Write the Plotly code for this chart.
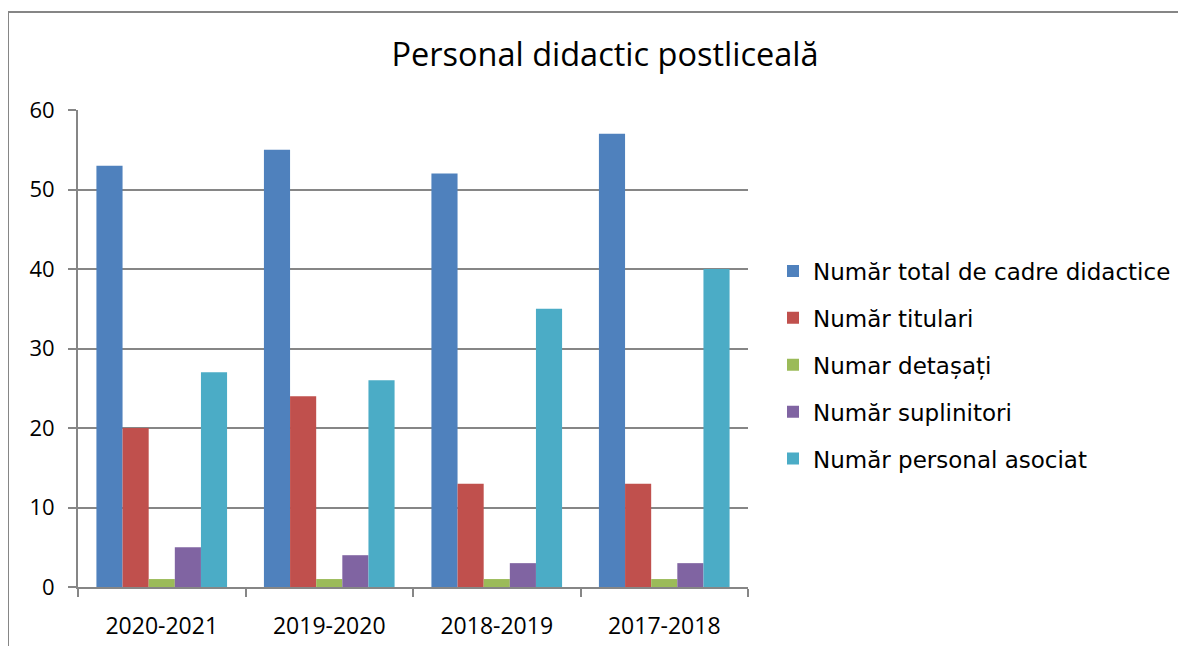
import plotly.graph_objects as go

categories = ["2020-2021", "2019-2020", "2018-2019", "2017-2018"]
series_names = [
    "Număr total de cadre didactice",
    "Număr titulari",
    "Numar detașați",
    "Număr suplinitori",
    "Număr personal asociat",
]
total = [53, 55, 52, 57]
titulari = [20, 24, 13, 13]
detasati = [1, 1, 1, 1]
suplinitori = [5, 4, 3, 3]
asociat = [27, 26, 35, 40]
colors = ["#4F81BD", "#C0504D", "#9BBB59", "#8064A2", "#4BACC6"]

OFF = 8  # page body margin
W, H = 1186 - OFF, 646 - OFF
# plot area in screen pixels
SL, SR, ST, SB = 78, 748, 110, 587
L, R, T, B = SL - OFF, SR - OFF, ST - OFF, SB - OFF

fig = go.Figure()
for i, (name, vals) in enumerate(zip(series_names, [total, titulari, detasati, suplinitori, asociat])):
    fig.add_trace(go.Bar(
        x=categories, y=vals, name=name, marker_color=colors[i],
        marker_line_width=0, legendgroup=str(i),
    ))

pw, ph = R - L, B - T

def px_x(p):  # screen px -> paper
    return (p - SL) / pw

def px_y(p):
    return (SB - p) / ph

calib = "Open Sans, Lato, sans-serif"

fig.update_layout(
    width=W, height=H,
    margin=dict(l=L, r=W - R, t=T, b=H - B, pad=0, autoexpand=False),
    paper_bgcolor="white", plot_bgcolor="white",
    barmode="group", bargap=0.22, bargroupgap=0,
    title=dict(text="Personal didactic postliceală", x=(605 - OFF) / W, xanchor="center",
               y=1 - (55 - OFF) / H, yanchor="middle", yref="container",
               font=dict(family=calib, size=32.5, color="black")),
    font=dict(family=calib, color="black"),
    legend=dict(x=px_x(773), xanchor="left", y=px_y(365), yanchor="middle",
                font=dict(family="DejaVu Sans, Liberation Sans, sans-serif", size=23, color="black"),
                traceorder="grouped", tracegroupgap=14, itemwidth=30,
                bgcolor="rgba(0,0,0,0)"),
    xaxis=dict(showline=True, linecolor="#868686", linewidth=2, ticks="outside",
               tickson="boundaries", ticklen=8, tickcolor="#868686", tickwidth=1.5,
               ticklabelstandoff=17, automargin=False,
               tickfont=dict(size=23, family=calib, color="black"),
               showgrid=False),
    yaxis=dict(range=[0, 60], dtick=10, showline=True, linecolor="#868686", linewidth=2,
               ticks="outside", ticklen=8, tickcolor="#868686", tickwidth=1.5,
               ticklabelstandoff=9, automargin=False,
               showgrid=True, gridcolor="#868686", gridwidth=1.5, zeroline=False,
               tickfont=dict(size=22, family=calib, color="black")),
    shapes=[dict(type="rect", xref="paper", yref="paper",
                 x0=px_x(8), x1=px_x(1186 + 20), y0=px_y(646 + 20), y1=px_y(12),
                 line=dict(color="#868686", width=2), fillcolor="rgba(0,0,0,0)", layer="below")],
)

fig.write_html("out.html")
